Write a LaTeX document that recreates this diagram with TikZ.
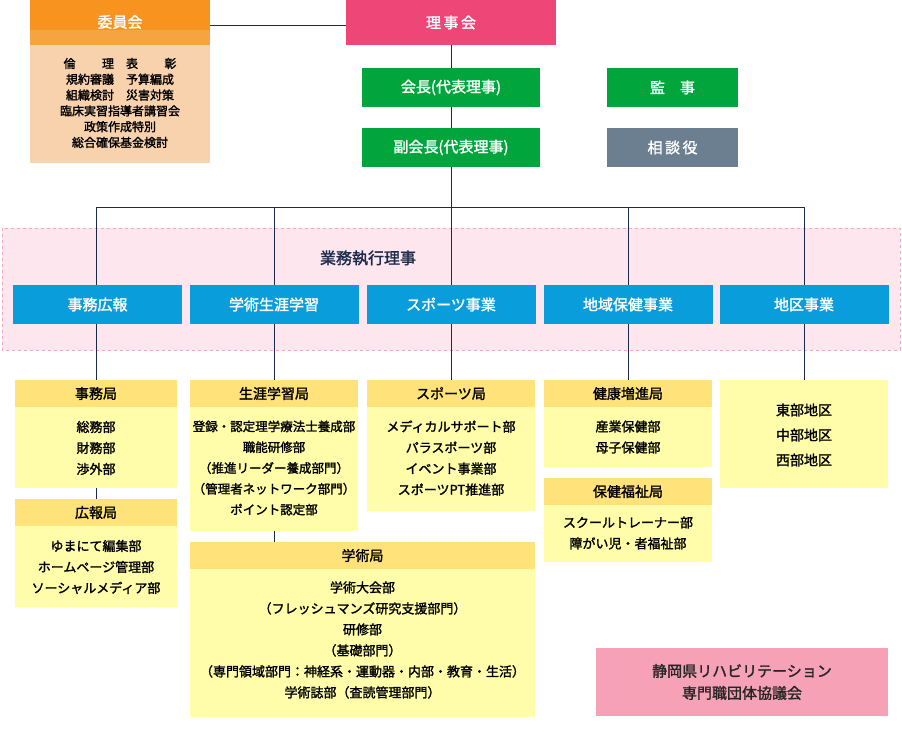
\documentclass[tikz,border=0pt]{standalone}
\usepackage{fontspec}
\setmainfont{Noto Sans CJK JP}[FakeBold=1.6]
\definecolor{lineC}{HTML}{1B2A4A}
\definecolor{orgC}{HTML}{F7931E}
\definecolor{orgB}{HTML}{F6A442}
\definecolor{peach}{HTML}{F8D1AD}
\definecolor{rijiC}{HTML}{EE4677}
\definecolor{grn}{HTML}{00A63C}
\definecolor{grayb}{HTML}{6B7F91}
\definecolor{blu}{HTML}{0A9DDB}
\definecolor{pinkbg}{HTML}{FDE6EE}
\definecolor{pinkbd}{HTML}{F4A7BE}
\definecolor{yhead}{HTML}{FFE37A}
\definecolor{ybody}{HTML}{FFFDAA}
\definecolor{shiz}{HTML}{F7A1B6}
\tikzset{
 box/.style={inner sep=0pt,outer sep=0pt,align=center},
 topbox/.style={box,text=white,font=\fontsize{15}{18}\selectfont},
 bluebox/.style={box,fill=blu,text=white,font=\fontsize{15}{18}\selectfont,minimum width=169pt,minimum height=39pt},
 yhd/.style={box,fill=yhead,font=\fontsize{14}{17}\selectfont,minimum width=#1,minimum height=27pt},
 ybd/.style={box,fill=ybody,font=\fontsize{13}{21}\selectfont,anchor=north},
 conn/.style={draw=lineC,line width=0.8pt},
}
\begin{document}
\begin{tikzpicture}[x=1pt,y=-1pt]
\useasboundingbox (0,0) rectangle (902,746);
% pink region
\fill[pinkbg] (2,228) rectangle (900,350);
\draw[pinkbd,dashed,line width=0.6pt] (2,228) rectangle (900,350);
% iinkai
\node[box,fill=peach,minimum width=180pt,minimum height=163pt] (iinbody) at (120,81.5) {};
\fill[orgC] (30,0) rectangle (210,30);
\fill[orgB] (30,30) rectangle (210,45);
\node[topbox] (iin) at (120,22) {委員会};
\node[box,font=\fontsize{12}{15.8}\selectfont] (iinlist) at (120,103) {倫\hspace{2.2em}理\hspace{1em}表\hspace{2.2em}彰\\規約審議\hspace{1em}予算編成\\組織検討\hspace{1em}災害対策\\臨床実習指導者講習会\\政策作成特別\\総合確保基金検討};
% top
\node[topbox,fill=rijiC,minimum width=210pt,minimum height=45pt] (riji) at (451,22.5) {理\,事\,会};
\node[topbox,fill=grn,minimum width=178pt,minimum height=39pt] (kaicho) at (451,87.5) {会長(代表理事)};
\node[topbox,fill=grn,minimum width=178pt,minimum height=39pt] (fuku) at (451,147.5) {副会長(代表理事)};
\node[topbox,fill=grn,minimum width=131pt,minimum height=39pt] (kanji) at (672.5,87.5) {監\hspace{1em}事};
\node[topbox,fill=grayb,minimum width=131pt,minimum height=39pt] (sodan) at (672.5,147.5) {相\,談\,役};
\coordinate (ie) at (210,25);
\draw[conn] (ie) -- (ie -| riji.west);
\draw[conn] (riji.south) -- (kaicho.north);
\draw[conn] (kaicho.south) -- (fuku.north);
\coordinate (bus) at (451,207);
\node[box,font=\fontsize{16}{19}\selectfont,text=lineC] (gyomu) at (368,258) {業務執行理事};
% blue
\node[bluebox] (b1) at (97.5,304.5) {事務広報};
\node[bluebox] (b2) at (274,304.5) {学術生涯学習};
\node[bluebox] (b3) at (451,304.5) {スポーツ事業};
\node[bluebox] (b4) at (628,304.5) {地域保健事業};
\node[bluebox] (b5) at (804,304.5) {地区事業};
% yellow boxes
\node[ybd,minimum width=162pt,minimum height=108pt] (jimuB) at (96,380) {};
\node[yhd=162pt,anchor=north] (jimu) at (96,380) {事務局};
\node[box,font=\fontsize{13}{21}\selectfont] at (96,448) {総務部\\財務部\\渉外部};
\node[ybd,minimum width=162pt,minimum height=108pt] (kohoB) at (96,499) {};
\node[yhd=162pt,anchor=north] (koho) at (96,499) {広報局};
\node[box,font=\fontsize{13}{21}\selectfont] at (96,567) {ゆまにて編集部\\ホームページ管理部\\ソーシャルメディア部};
\node[ybd,minimum width=168pt,minimum height=151pt] (shogaiB) at (274,380) {};
\node[yhd=168pt,anchor=north] (shogai) at (274,380) {生涯学習局};
\node[box,font=\fontsize{12.5}{20.8}\selectfont] at (274,468) {登録・認定理学療法士養成部\\職能研修部\\（推進リーダー養成部門）\\（管理者ネットワーク部門）\\ポイント認定部};
\node[ybd,minimum width=345pt,minimum height=175pt] (gakuB) at (362.5,542) {};
\node[yhd=345pt,anchor=north] (gaku) at (362.5,542) {学術局};
\node[box,font=\fontsize{13}{21}\selectfont] at (362.5,640) {学術大会部\\（フレッシュマンズ研究支援部門）\\研修部\\（基礎部門）\\（専門領域部門：神経系・運動器・内部・教育・生活）\\学術誌部（査読管理部門）};
\node[ybd,minimum width=168pt,minimum height=131pt] (sportB) at (451,380) {};
\node[yhd=168pt,anchor=north] (sport) at (451,380) {スポーツ局};
\node[box,font=\fontsize{13}{21}\selectfont] at (451,458) {メディカルサポート部\\パラスポーツ部\\イベント事業部\\スポーツPT推進部};
\node[ybd,minimum width=168pt,minimum height=87pt] (kenkoB) at (628,380) {};
\node[yhd=168pt,anchor=north] (kenko) at (628,380) {健康増進局};
\node[box,font=\fontsize{13}{21}\selectfont] at (628,437) {産業保健部\\母子保健部};
\node[ybd,minimum width=168pt,minimum height=84pt] (hokenB) at (628,478) {};
\node[yhd=168pt,anchor=north] (hoken) at (628,478) {保健福祉局};
\node[box,font=\fontsize{13}{21}\selectfont] at (628,533) {スクールトレーナー部\\障がい児・者福祉部};
\node[ybd,minimum width=168pt,minimum height=108pt] (chiku) at (804,380) {};
\node[box,font=\fontsize{14}{25}\selectfont] at (804,435) {東部地区\\中部地区\\西部地区};
% connectors
\draw[conn] (fuku.south) -- (bus);
\draw[conn] (jimu.north) |- (bus) -| (b5.north);
\draw[conn] (bus) -| (b2.north);
\draw[conn] (bus) -| (b4.north);
\draw[conn] (bus) -- (b3.north);
\draw[conn] (b1.south -| jimu.north) -- (jimu.north);
\draw[conn] (b2.south) -- (shogai.north);
\draw[conn] (b3.south) -- (sport.north);
\draw[conn] (b4.south) -- (kenko.north);
\draw[conn] (b5.south) -- (chiku.north);
\draw[conn] (jimuB.south) -- (koho.north);
\draw[conn] (shogaiB.south) -- (shogaiB.south |- gaku.north);
% redraw blue boxes over bus line
\node[bluebox] at (b1) {事務広報};
\node[bluebox] at (b2) {学術生涯学習};
\node[bluebox] at (b3) {スポーツ事業};
\node[bluebox] at (b4) {地域保健事業};
\node[bluebox] at (b5) {地区事業};
% shizuoka
\node[box,fill=shiz,minimum width=292pt,minimum height=68pt,font=\fontsize{15}{22}\selectfont,text=black!85] (shizuoka) at (742,682) {静岡県リハビリテーション\\専門職団体協議会};
\end{tikzpicture}
\end{document}
